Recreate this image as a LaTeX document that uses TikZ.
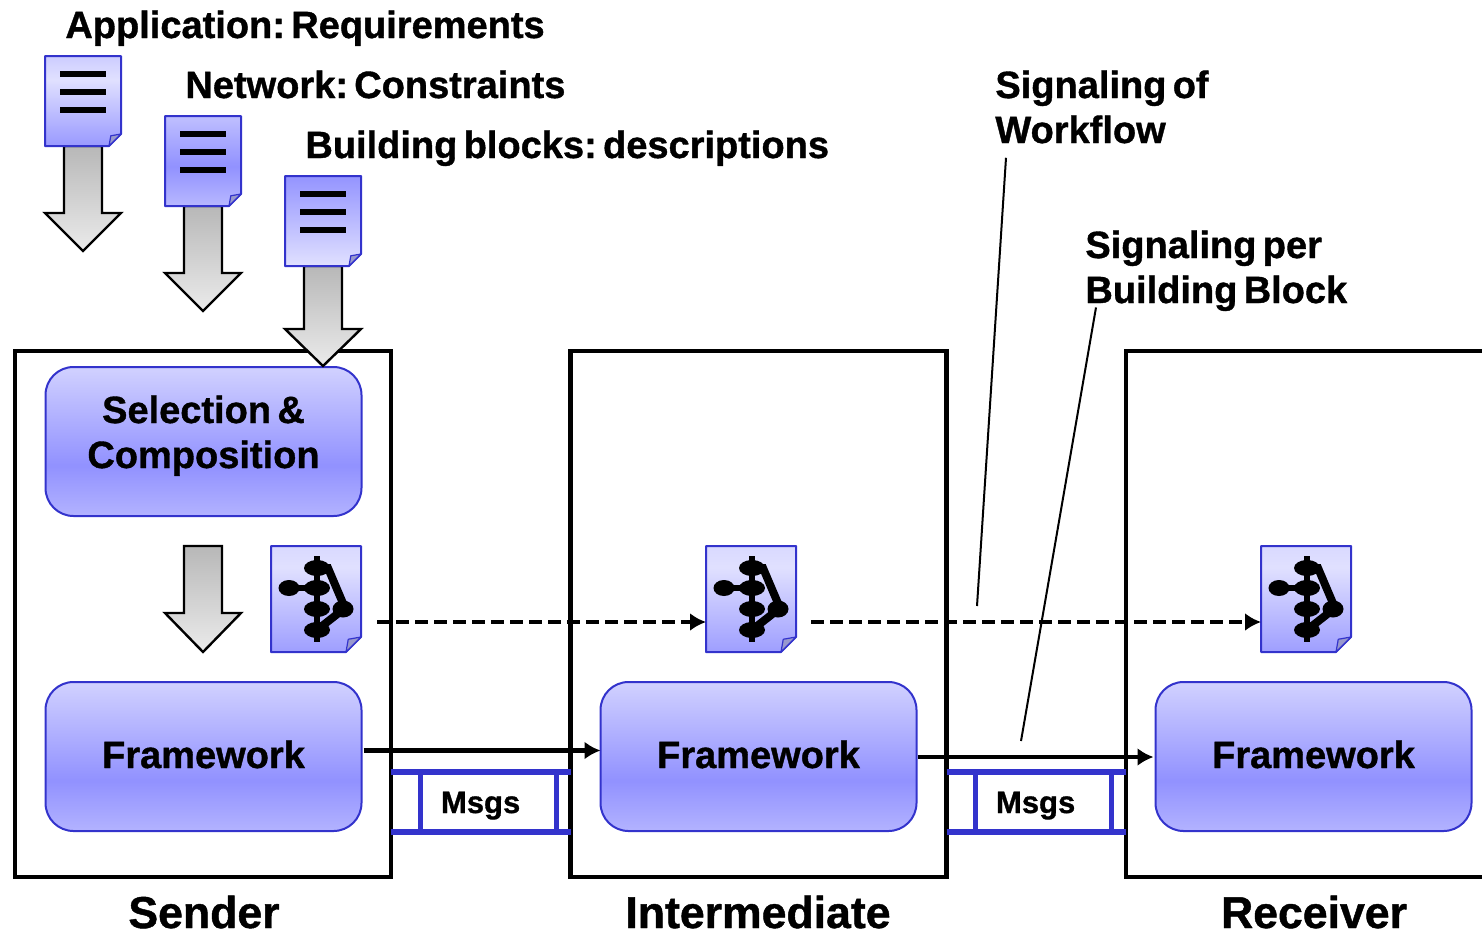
\documentclass[tikz,border=0pt]{standalone}
\usepackage{fontspec}
\setmainfont{Liberation Sans}[WordSpace=0.6,BoldFeatures={FakeBold=1}]
\usetikzlibrary{calc,arrows.meta}

\definecolor{boxblue}{HTML}{3333CC}
% the middle 25bp..75bp of each shading is what the path shows
\pgfdeclareverticalshading{boxshade}{100bp}{color(0bp)=(blue!30!white);
  color(25bp)=(blue!30!white);color(42bp)=(blue!43!white);
  color(75bp)=(blue!18!white);color(100bp)=(blue!18!white)}
\pgfdeclareverticalshading{sheetA}{100bp}{color(0bp)=(blue!40!white);color(25bp)=(blue!40!white);
  color(62bp)=(blue!12!white);color(75bp)=(blue!20!white);color(100bp)=(blue!20!white)}
\pgfdeclareverticalshading{sheetB}{100bp}{color(0bp)=(blue!28!white);color(25bp)=(blue!28!white);
  color(47bp)=(blue!43!white);color(75bp)=(blue!25!white);color(100bp)=(blue!25!white)}
\pgfdeclareverticalshading{sheetC}{100bp}{color(0bp)=(blue!12!white);color(25bp)=(blue!12!white);
  color(75bp)=(blue!42!white);color(100bp)=(blue!42!white)}
\pgfdeclareverticalshading{sheetD}{100bp}{color(0bp)=(blue!38!white);color(25bp)=(blue!38!white);
  color(65bp)=(blue!12!white);color(75bp)=(blue!15!white);color(100bp)=(blue!15!white)}
\pgfdeclareverticalshading{greyshade}{100bp}{color(0bp)=(black!8);color(25bp)=(black!8);
  color(75bp)=(black!28);color(100bp)=(black!28)}

\tikzset{
  frame/.style={draw,line width=2.4pt,minimum width=188pt,minimum height=263pt,inner sep=0,outer sep=0},
  block/.style={draw=boxblue,line width=1pt,rounded corners=14pt,shading=boxshade,
    minimum width=158pt,minimum height=74.5pt,inner sep=0,outer sep=0,align=center},
  sheet/.style={inner sep=0,outer sep=0},
  smallsheet/.style={sheet,minimum width=38pt,minimum height=45pt},
  flowsheet/.style={sheet,minimum width=45pt,minimum height=53pt},
  sheetline/.style={draw=boxblue,line width=1pt,line join=round},
  flow/.style={line width=2.4pt,-{Latex[length=8pt,width=9pt]}},
  rail/.style={draw=boxblue,line width=3pt},
  lead/.style={draw,line width=1pt},
}

% name, north west corner, node style, shading, fold size
\newcommand{\docsheet}[6]{
  \node[#4,anchor=north west] (#1) at (#2,#3) {};
  \path[sheetline,shading=#5]
    (#1.north west) -- (#1.north east) -- ($(#1.south east)+(0,-#6)$)
    -- ($(#1.south east)+(-#6,0)$) -- (#1.south west) -- cycle;
  \path[sheetline,line width=.6pt,fill=blue!35!gray!60!white]
    ($(#1.south east)+(0,-#6)$) -- ($(#1.south east)+(-#6*.85,-#6*.85)$)
    -- ($(#1.south east)+(-#6,0)$) -- cycle;
}
\newcommand{\textlines}[1]{
  \foreach \dy in {-27,-9,9}
    \draw[line width=3pt] ($(#1.center)+(-23,\dy)$) -- ($(#1.center)+(23,\dy)$);
}
\newcommand{\flowglyph}[1]{
  \begin{scope}[shift={(#1.center)}]
    \draw[line width=3.2pt] (1,-43) -- (1,43);
    \draw[line width=3.2pt] (-27,-11) -- (1,-11);
    \draw[line width=4pt] (1,-31) -- (12,-31) -- (29,9) -- (1,31);
    \fill (1,-31) ellipse (13 and 8);
    \fill (-27,-11) ellipse (10.5 and 8);
    \fill (1,-11) ellipse (13 and 8);
    \fill (1,10) ellipse (13 and 8);
    \fill (27,10) ellipse (10.5 and 8.5);
    \fill (1,31) ellipse (13 and 8);
  \end{scope}
}
% centre x, top, neck, tip
\newcommand{\blockarrow}[4]{
  \path[draw,line width=1.2pt,line join=miter,shading=greyshade]
    (#1-19,#2) -- (#1+19,#2) -- (#1+19,#3) -- (#1+38,#3) -- (#1,#4)
    -- (#1-38,#3) -- (#1-19,#3) -- cycle;
}

\begin{document}
\frenchspacing
\begin{tikzpicture}[x=.5pt,y=-.5pt]
  \useasboundingbox (0,0) rectangle (1482,932);

  \node[frame] (sender)       at (203,614)  {};
  \node[frame] (intermediate) at (758.5,614) {};
  \node[frame] (receiver)     at (1314,614) {};

  \begin{scope}[every node/.style={anchor=base,inner sep=0,font=\fontsize{22.3}{24}\selectfont\bfseries}]
    \node (sendername)  at (204,928)  {Sender};
    \node (intername)   at (758,928)  {Intermediate};
    \node (recvname)    at (1314,928) {Receiver};
  \end{scope}

  \begin{scope}[every node/.style={block,text height=14pt,text depth=2.5pt,
      font=\fontsize{19}{22.5}\selectfont\bfseries}]
    \node[text height=30pt,text depth=3.5pt] (compose) at (203.5,441.5) {Selection \&\\Composition};
    \node (frameA)  at (203.5,756.5) {Framework};
    \node (frameB)  at (758.5,756.5) {Framework};
    \node (frameC)  at (1313.5,756.5) {Framework};
  \end{scope}

  \blockarrow{83}{146}{213}{251}
  \blockarrow{203}{206}{273}{311}
  \blockarrow{323}{266}{329}{366}
  \blockarrow{203}{546}{613}{652}

  \docsheet{appldoc}{45}{56}{smallsheet}{sheetA}{12}
  \docsheet{netdoc}{165}{116}{smallsheet}{sheetB}{12}
  \docsheet{blockdoc}{285}{176}{smallsheet}{sheetC}{12}
  \textlines{appldoc}
  \textlines{netdoc}
  \textlines{blockdoc}

  \docsheet{flowA}{271}{546}{flowsheet}{sheetD}{15}
  \docsheet{flowB}{706}{546}{flowsheet}{sheetD}{15}
  \docsheet{flowC}{1261}{546}{flowsheet}{sheetD}{15}
  \flowglyph{flowA}
  \flowglyph{flowB}
  \flowglyph{flowC}

  \begin{scope}[every node/.style={anchor=base west,inner sep=0,font=\fontsize{19}{22.5}\selectfont\bfseries}]
    \node (appltext)  at (65,38)   {Application: Requirements};
    \node (nettext)   at (185,98)  {Network: Constraints};
    \node (blocktext) at (305,158) {Building blocks: descriptions};
    \node (signalone) at (995,98)  {Signaling of};
    \node (signalonb) at (995,143) {Workflow};
    \node (signaltwo) at (1085,258) {Signaling per};
    \node (signaltwb) at (1085,303) {Building Block};
  \end{scope}

  % message ladders between the hosts
  \begin{scope}[every node/.style={minimum width=67.5pt,minimum height=30pt,inner ysep=0,
      inner xsep=10pt,text width=47.5pt,text height=14pt,text depth=3pt,
      font=\fontsize{15.5}{18}\selectfont\bfseries}]
    \node (msgA) at (488.5,802)  {Msgs};
    \node (msgB) at (1043.5,802) {Msgs};
  \end{scope}
  \draw[rail,line width=2.5pt] (msgA.north west) -- (msgA.south west);
  \draw[rail,line width=2.5pt] (msgA.north east) -- (msgA.south east);
  \draw[rail,line width=2.5pt] (msgB.north west) -- (msgB.south west);
  \draw[rail,line width=2.5pt] (msgB.north east) -- (msgB.south east);
  \draw[rail] (sender.east |- msgA.north) -- (intermediate.west |- msgA.north);
  \draw[rail] (sender.east |- msgA.south) -- (intermediate.west |- msgA.south);
  \draw[rail] (intermediate.east |- msgB.north) -- (receiver.west |- msgB.north);
  \draw[rail] (intermediate.east |- msgB.south) -- (receiver.west |- msgB.south);

  \draw[flow] ($(frameA.east)+(2,-6)$) -- ($(frameB.west)+(0,-6)$);
  \draw[flow] ($(frameB.east)+(1,.5)$) -- ($(frameC.west)+(-2,.5)$);
  \draw[flow,dash pattern=on 6.5pt off 3pt] ($(flowA.east)+(16,23)$) -- ($(flowB.west)+(0,23)$);
  \draw[flow,dash pattern=on 6.5pt off 3pt] ($(flowB.east)+(15,23)$) -- ($(flowC.west)+(0,23)$);

  \coordinate (flowend) at (977,606);
  \coordinate (blockend) at (1021,741);
  \draw[lead] ($(signalonb.south west)+(11,14)$) -- (flowend);
  \draw[lead] ($(signaltwb.south west)+(11,-4)$) -- (blockend);
\end{tikzpicture}
\end{document}
